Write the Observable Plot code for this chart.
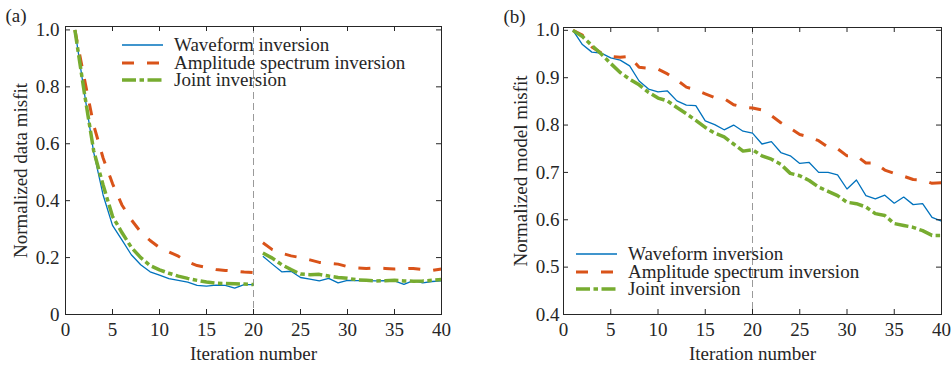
<!DOCTYPE html>
<html><head><meta charset="utf-8">
<script src="https://cdn.jsdelivr.net/npm/d3@7"></script>
<script src="https://cdn.jsdelivr.net/npm/@observablehq/plot@0.6"></script>
<style>
body{margin:0;background:#fff;}
#wrap{display:flex;width:952px;height:365px;}
.panel{position:relative;width:476px;height:365px;}
.legend{position:absolute;left:0;top:0;font-family:"Liberation Serif","Times New Roman",serif;font-size:19px;line-height:16px;color:#262626;}
.legend .row{position:absolute;height:16px;display:flex;align-items:center;white-space:nowrap;}
.legend span{display:block;line-height:16px;height:16px;}
.legend svg{display:block;margin-right:11px;}
</style></head><body><div id="wrap"></div>
<script>
const iterations = [1,2,3,4,5,6,7,8,9,10,11,12,13,14,15,16,17,18,19,20,21,22,23,24,25,26,27,28,29,30,31,32,33,34,35,36,37,38,39,40];
const xTicks = [0,5,10,15,20,25,30,35,40];
const seriesNames = ["Waveform inversion","Amplitude spectrum inversion","Joint inversion"];

// Panel (a): normalized data misfit
const waveA = [1.0,0.78,0.57,0.42,0.313,0.262,0.21,0.175,0.15,0.138,0.126,0.12,0.114,0.102,0.1,0.103,0.102,0.093,0.105,0.105,
  0.205,0.177,0.15,0.152,0.13,0.124,0.118,0.127,0.111,0.12,0.119,0.119,0.118,0.119,0.118,0.106,0.119,0.111,0.116,0.118];
const ampA = [1.0,0.83,0.665,0.55,0.46,0.385,0.333,0.29,0.26,0.235,0.22,0.205,0.185,0.172,0.165,0.158,0.155,0.152,0.149,0.147,
  0.252,0.228,0.215,0.206,0.2,0.192,0.183,0.18,0.177,0.168,0.164,0.162,0.164,0.162,0.16,0.161,0.162,0.158,0.155,0.16];
const jointA = [1.0,0.78,0.575,0.455,0.345,0.288,0.236,0.2,0.172,0.157,0.145,0.135,0.127,0.12,0.114,0.11,0.109,0.108,0.107,0.105,
  0.216,0.198,0.175,0.158,0.142,0.14,0.141,0.135,0.13,0.127,0.122,0.12,0.118,0.119,0.12,0.118,0.117,0.118,0.12,0.123];
const yTicksA = [0,0.2,0.4,0.6,0.8,1.0];

// Panel (b): normalized model misfit
const waveB = [1.0,0.970,0.954,0.952,0.942,0.937,0.925,0.893,0.876,0.870,0.872,0.851,0.842,0.841,0.809,0.801,0.790,0.800,0.787,0.783,
  0.760,0.765,0.742,0.735,0.719,0.721,0.700,0.700,0.695,0.665,0.684,0.651,0.644,0.652,0.635,0.648,0.632,0.634,0.605,0.597];
const ampB = [1.0,0.99,0.965,0.952,0.945,0.943,0.945,0.922,0.92,0.918,0.908,0.895,0.88,0.874,0.866,0.858,0.856,0.843,0.838,0.836,
  0.832,0.82,0.805,0.793,0.78,0.775,0.767,0.753,0.75,0.735,0.735,0.72,0.72,0.705,0.698,0.692,0.685,0.684,0.677,0.678];
const jointB = [1.0,0.987,0.968,0.95,0.93,0.911,0.897,0.885,0.869,0.857,0.851,0.837,0.824,0.81,0.795,0.783,0.775,0.76,0.745,0.748,
  0.735,0.728,0.717,0.698,0.693,0.683,0.669,0.66,0.651,0.637,0.634,0.627,0.613,0.609,0.592,0.588,0.584,0.577,0.567,0.567];
const yTicksB = [0.4,0.5,0.6,0.7,0.8,0.9,1.0];

const styles = [
  {color:"#0072BD", width:1.3, dash:null},
  {color:"#D95319", width:3, dash:"12,13"},
  {color:"#77AC30", width:3.5, dash:"14,3.5,4.5,3.5"}
];
const ink = "#262626";
const font = "Liberation Serif";
const fs = 19;

function makePanel(cfg) {
  const W = 476, H = 365;
  const pw = W - cfg.marginLeft - cfg.marginRight;
  const ph = H - cfg.marginTop - cfg.marginBottom;
  const lineMarks = cfg.values.map((vals, k) => {
    const rows = iterations.map((it, j) => ({i: it, v: vals[j], seg: cfg.split && it > 20 ? 1 : 0}));
    const s = styles[k];
    return Plot.line(rows, {x: "i", y: "v", z: "seg", stroke: s.color, strokeWidth: s.width,
      strokeDasharray: s.dash || undefined, strokeLinecap: "butt", strokeLinejoin: "round"});
  });
  const fmt = d => d === 0 ? "0" : d.toFixed(1);
  const svg = Plot.plot({
    width: W, height: H,
    marginLeft: cfg.marginLeft, marginRight: cfg.marginRight,
    marginTop: cfg.marginTop, marginBottom: cfg.marginBottom,
    style: {fontFamily: font, fontSize: fs + "px", color: ink, background: "white"},
    x: {domain: [0, 40]},
    y: {domain: cfg.yDomain},
    marks: [
      Plot.ruleX([20], {stroke: "#9a9a9a", strokeWidth: 1, strokeDasharray: "7,4"}),
      ...lineMarks,
      Plot.frame({stroke: ink, strokeWidth: 1}),
      Plot.tickX(xTicks, {x: d => d, insetTop: ph - 5, stroke: ink}),
      Plot.tickX(xTicks, {x: d => d, insetBottom: ph - 5, stroke: ink}),
      Plot.tickY(cfg.yTicks, {y: d => d, insetLeft: pw - 5, stroke: ink}),
      Plot.tickY(cfg.yTicks, {y: d => d, insetRight: pw - 5, stroke: ink}),
      Plot.axisX({ticks: xTicks, tickSize: 0, tickPadding: 8, fontSize: fs, label: null, fill: ink}),
      Plot.axisY({ticks: cfg.yTicks, tickSize: 0, tickPadding: cfg.tickPad, tickFormat: fmt, fontSize: fs, label: null, fill: ink}),
      Plot.text([cfg.ylabel], {text: d => d, frameAnchor: "left", dx: -cfg.ylabelOffset, rotate: -90,
        textAnchor: "middle", lineAnchor: "middle", fontSize: fs, fill: ink}),
      Plot.text(["Iteration number"], {text: d => d, frameAnchor: "bottom", dy: 39,
        textAnchor: "middle", lineAnchor: "middle", fontSize: fs, fill: ink}),
      Plot.text([cfg.tag], {text: d => d, frameAnchor: "top-left", dx: cfg.tagDx, dy: -11,
        textAnchor: "start", lineAnchor: "middle", fontSize: fs, fill: ink})
    ]
  });
  const div = document.createElement("div");
  div.className = "panel";
  div.appendChild(svg);
  const leg = document.createElement("div");
  leg.className = "legend";
  seriesNames.forEach((name, k) => {
    const s = styles[k];
    const row = document.createElement("div");
    row.className = "row";
    row.style.left = cfg.legendX + "px";
    row.style.top = (cfg.legendY[k] - 8) + "px";
    row.innerHTML = `<svg width="41" height="10"><line x1="0" x2="41" y1="5" y2="5" stroke="${s.color}" stroke-width="${s.width}" ${s.dash ? `stroke-dasharray="${s.dash}"` : ""} stroke-linecap="butt"/></svg><span>${name}</span>`;
    leg.appendChild(row);
  });
  div.appendChild(leg);
  return div;
}

const wrap = document.getElementById("wrap");
wrap.appendChild(makePanel({
  tag: "(a)", tagDx: -60, ylabel: "Normalized data misfit", ylabelOffset: 45,
  yDomain: [0, 1.012], yTicks: yTicksA, values: [waveA, ampA, jointA], split: true,
  marginLeft: 65, marginRight: 35, marginTop: 26, marginBottom: 51, tickPad: 6,
  legendX: 122, legendY: [45, 62.5, 80]
}));
wrap.appendChild(makePanel({
  tag: "(b)", tagDx: -60, ylabel: "Normalized model misfit", ylabelOffset: 43,
  yDomain: [0.4, 1.006], yTicks: yTicksB, values: [waveB, ampB, jointB], split: false,
  marginLeft: 87, marginRight: 11, marginTop: 27, marginBottom: 51, tickPad: 4,
  legendX: 100, legendY: [254, 271.5, 289]
}));
</script></body></html>
